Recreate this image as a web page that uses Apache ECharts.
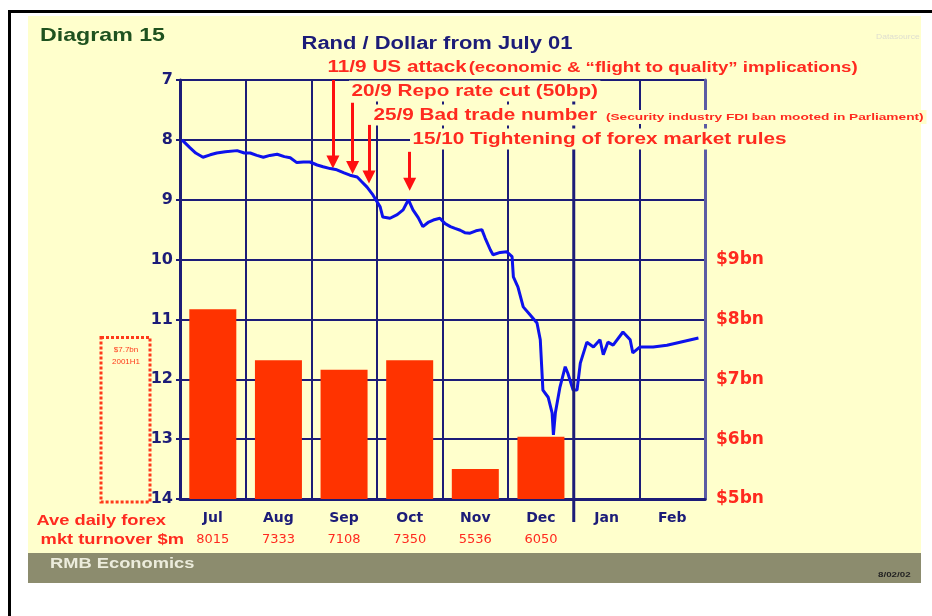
<!DOCTYPE html>
<html>
<head>
<meta charset="utf-8">
<script src="https://cdn.jsdelivr.net/npm/echarts@6/dist/echarts.min.js"></script>
<style>
  html, body { margin: 0; padding: 0; background: #fff; }
  #chart-container { width: 932px; height: 616px; }
</style>
</head>
<body>
<div id="chart-container"></div>
<script>
// Month categories and the forex turnover row underneath them
const months = ["Jul", "Aug", "Sep", "Oct", "Nov", "Dec", "Jan", "Feb"];
const turnoverM = [8015, 7333, 7108, 7350, 5536, 6050];
// Bar heights in $bn as drawn in the picture
const turnoverBn = [8.17, 7.32, 7.16, 7.32, 5.5, 6.04];
const h1AvgBn = 7.7; // 2001H1 average (dotted box)

// Rand per dollar, [months since 1 July 2001, rate]
const randPath = [
  [0.03, 8.0], [0.15, 8.13], [0.24, 8.22], [0.35, 8.29], [0.46, 8.25], [0.56, 8.22],
  [0.69, 8.2], [0.87, 8.18], [0.98, 8.22], [1.07, 8.22], [1.17, 8.26], [1.27, 8.29],
  [1.37, 8.26], [1.48, 8.24], [1.59, 8.28], [1.68, 8.3], [1.78, 8.38], [1.88, 8.37],
  [1.98, 8.37], [2.09, 8.42], [2.18, 8.45], [2.29, 8.48], [2.39, 8.5], [2.5, 8.55],
  [2.59, 8.59], [2.7, 8.62], [2.77, 8.7], [2.85, 8.79], [2.94, 8.92], [3.05, 9.12],
  [3.09, 9.29], [3.2, 9.31], [3.31, 9.25], [3.4, 9.17], [3.48, 9.0], [3.55, 9.17],
  [3.63, 9.3], [3.7, 9.45], [3.78, 9.38], [3.86, 9.34], [3.96, 9.31], [4.04, 9.4],
  [4.12, 9.45], [4.19, 9.48], [4.27, 9.51], [4.34, 9.55], [4.42, 9.56], [4.51, 9.52],
  [4.6, 9.5], [4.65, 9.64], [4.73, 9.84], [4.77, 9.92], [4.88, 9.88], [4.98, 9.87],
  [5.06, 9.95], [5.08, 10.29], [5.15, 10.46], [5.23, 10.79], [5.34, 10.93], [5.44, 11.06],
  [5.49, 11.34], [5.53, 12.18], [5.61, 12.3], [5.67, 12.56], [5.69, 12.93], [5.72, 12.56],
  [5.79, 12.13], [5.87, 11.79], [5.91, 11.9], [5.99, 12.18], [6.05, 12.18], [6.1, 11.73],
  [6.2, 11.38], [6.3, 11.46], [6.4, 11.34], [6.45, 11.59], [6.52, 11.38], [6.6, 11.43],
  [6.75, 11.21], [6.86, 11.34], [6.9, 11.56], [7.01, 11.46], [7.21, 11.46], [7.42, 11.43],
  [7.62, 11.38], [7.9, 11.31]
];

// Event arrows: position (months) and rate range the arrow spans
const eventT = [2.33, 2.63, 2.88, 3.5];
const eventTop = [7.0, 7.38, 7.75, 8.2];
const eventTip = [8.37, 8.46, 8.62, 8.74];

const NAVY = "#1c1c78";
const RED = "#ff2a1f";
const BG = "#ffffcc";
const FONT = "'Liberation Sans', Arial, sans-serif";
const WIDE = "'DejaVu Sans', sans-serif";
const SX = 1.22; // the original lettering is stretched sideways

const chartElt = document.getElementById("chart-container");
const chart = echarts.init(chartElt, null, { renderer: "canvas" });

const eventLines = eventT.map((t, i) => [
  { coord: [t, eventTop[i]] },
  { coord: [t, eventTip[i]] }
]);

function label(id, x, y, text, font, fill, align) {
  return {
    id: id, type: "text", x: x, y: y, z: 50, scaleX: SX,
    style: { text: text, fill: fill, font: font, verticalAlign: "middle", align: align || "left" }
  };
}
function annot(id, x, y, text, size, sx) {
  return {
    id: id, type: "text", x: x, y: y, z: 50, scaleX: sx,
    style: {
      text: text, fill: RED, font: "bold " + size + "px " + FONT,
      verticalAlign: "middle", backgroundColor: BG, padding: [2, 2]
    }
  };
}

chart.setOption({
  backgroundColor: "#fff",
  animation: false,
  textStyle: { fontFamily: FONT },
  grid: { left: 180, top: 80, right: 227, bottom: 117 },
  xAxis: [
    {
      type: "category",
      data: months,
      boundaryGap: true,
      axisLine: { lineStyle: { color: NAVY, width: 3 } },
      axisTick: { show: false },
      splitLine: { show: true, interval: 0, lineStyle: { color: NAVY, width: 2 } },
      axisLabel: {
        interval: 0,
        margin: 8,
        formatter: (v, i) =>
          "{m|" + v + "}\n{n|" + (i < turnoverM.length ? turnoverM[i] : " ") + "}",
        rich: {
          m: { color: NAVY, fontWeight: "bold", fontSize: 14, lineHeight: 22, fontFamily: WIDE },
          n: { color: RED, fontSize: 13, lineHeight: 22, fontFamily: WIDE }
        }
      }
    },
    { type: "value", min: 0, max: 8, show: false }
  ],
  yAxis: [
    {
      type: "value",
      inverse: true,
      min: 7, max: 14, interval: 1,
      axisLine: { show: true, lineStyle: { color: NAVY, width: 3 } },
      axisTick: { show: true, length: 4, lineStyle: { color: NAVY, width: 2 } },
      splitLine: { show: true, lineStyle: { color: NAVY, width: 2 } },
      axisLabel: { color: NAVY, fontWeight: "bold", fontSize: 16, fontFamily: WIDE, margin: 7 }
    },
    {
      type: "value",
      position: "right",
      min: 5, max: 12, interval: 1,
      axisLine: { show: true, lineStyle: { color: "#5c5ca4", width: 3 } },
      axisTick: { show: false },
      splitLine: { show: false },
      axisLabel: {
        color: RED, fontWeight: "bold", fontSize: 17, fontFamily: WIDE, margin: 11,
        formatter: (v) => (v <= 9 ? "$" + v + "bn" : "")
      }
    }
  ],
  series: [
    {
      type: "bar",
      xAxisIndex: 0,
      yAxisIndex: 1,
      data: turnoverBn,
      barWidth: 47,
      itemStyle: { color: "#ff3300" },
      z: 3
    },
    {
      type: "line",
      xAxisIndex: 1,
      yAxisIndex: 0,
      data: randPath,
      showSymbol: false,
      clip: false,
      lineStyle: { color: "#0d12ec", width: 3 },
      z: 5,
      markLine: {
        silent: true,
        symbol: ["none", "triangle"],
        symbolSize: [13, 13],
        label: { show: false },
        lineStyle: { color: "#ff1010", width: 3, type: "solid" },
        data: eventLines
      }
    }
  ],
  graphic: [
    { id: "bg", type: "rect", z: -10, shape: { x: 28, y: 16, width: 893, height: 537 }, style: { fill: BG } },
    { id: "band", type: "rect", z: -10, shape: { x: 28, y: 553, width: 893, height: 30 }, style: { fill: "#8c8c6e" } },
    { id: "frameL", type: "rect", z: -10, shape: { x: 8, y: 10, width: 3, height: 606 }, style: { fill: "#000" } },
    { id: "frameT", type: "rect", z: -10, shape: { x: 8, y: 10, width: 924, height: 3 }, style: { fill: "#000" } },
    label("diag", 40, 36, "Diagram 15", "bold 19px " + FONT, "#1f521f"),
    label("title", 437, 44, "Rand / Dollar from July 01", "bold 18px " + FONT, NAVY, "center"),
    label("src", 876, 37, "Datasource", "7px " + FONT, "#deded0"),
    annot("e1", 325, 67, "11/9 US attack", 17.3, 1.2),
    annot("e1b", 466, 68, "(economic & “flight to quality” implications)", 14, 1.33),
    annot("e2", 349, 91, "20/9 Repo rate cut (50bp)", 17.3, 1.2),
    annot("e3", 371, 115, "25/9 Bad trade number", 17.3, 1.2),
    annot("e3b", 603, 117, "(Security industry FDI ban mooted in Parliament)", 9.5, 1.44),
    annot("e4", 410, 139, "15/10 Tightening of forex market rules", 17.3, 1.2),
    label("ave1", 166, 521, "Ave daily forex", "bold 15px " + FONT, RED, "right"),
    label("ave2", 184, 540, "mkt turnover $m", "bold 15px " + FONT, RED, "right"),
    label("rmb", 50, 564, "RMB Economics", "bold 15px " + FONT, "#ececdc"),
    label("date", 878, 575, "8/02/02", "bold 8px " + FONT, "#222")
  ]
});

// Items placed from the axes: 2001H1 dotted box and the year-end separator
const boxTop = chart.convertToPixel({ yAxisIndex: 1 }, h1AvgBn);
const boxBottom = chart.convertToPixel({ yAxisIndex: 1 }, 5);
const sepX = chart.convertToPixel({ xAxisIndex: 1 }, 6);
const plotTop = chart.convertToPixel({ yAxisIndex: 0 }, 7);

chart.setOption({
  graphic: [
    {
      id: "h1box", type: "rect", z: 40,
      shape: { x: 101, y: boxTop, width: 49, height: boxBottom - boxTop + 3 },
      style: { fill: "none", stroke: "#ff3a1a", lineWidth: 3, lineDash: [3, 2] }
    },
    {
      id: "h1text", type: "text", x: 126, y: boxTop + 6, z: 40,
      style: { text: "$7.7bn\n2001H1", fill: "#ff3a1a", font: "8px " + FONT, align: "center", lineHeight: 12 }
    },
    {
      id: "sep", type: "line", z: 40,
      shape: { x1: sepX, y1: plotTop, x2: sepX, y2: boxBottom + 23 },
      style: { stroke: NAVY, lineWidth: 3 }
    }
  ]
});
</script>
</body>
</html>
